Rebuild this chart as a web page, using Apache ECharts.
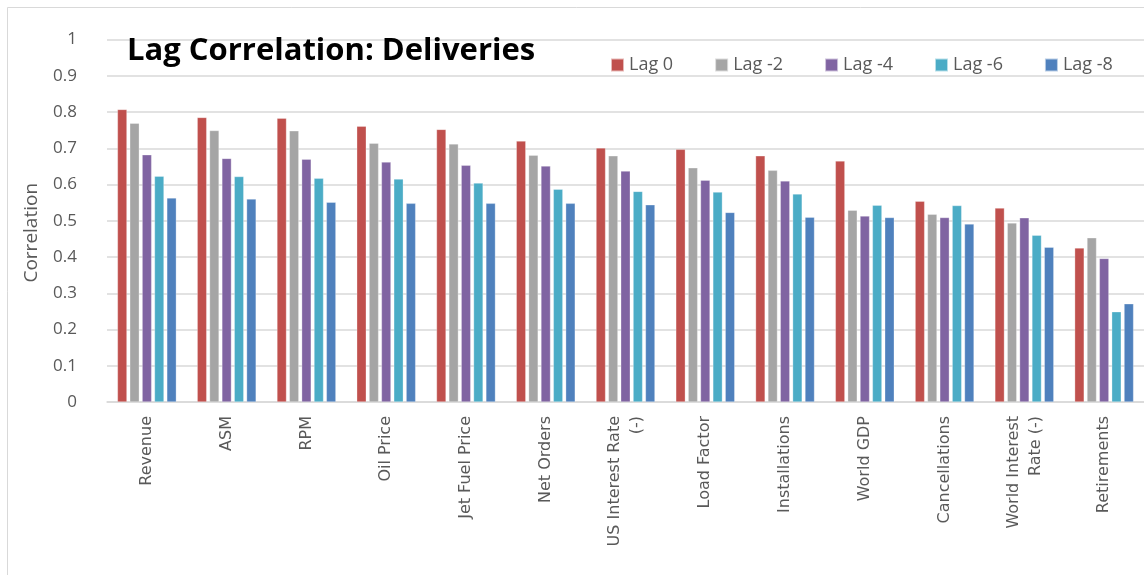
<!DOCTYPE html>
<html>
<head>
<meta charset="utf-8">
<script src="https://cdn.jsdelivr.net/npm/echarts@6/dist/echarts.min.js"></script>
<style>
  html, body { margin: 0; padding: 0; background: #fff; }
  #chart { width: 1144px; height: 575px; }
</style>
</head>
<body>
<div id="chart"></div>
<script>
const categories = [
  "Revenue", "ASM", "RPM", "Oil Price", "Jet Fuel Price", "Net Orders",
  "US Interest Rate\n(-)", "Load Factor", "Installations", "World GDP",
  "Cancellations", "World Interest\nRate (-)", "Retirements"
]

const lag0 = [0.807, 0.785, 0.783, 0.761, 0.752, 0.720, 0.701, 0.697, 0.679, 0.665, 0.554, 0.535, 0.425]
const lag2 = [0.769, 0.749, 0.748, 0.714, 0.712, 0.681, 0.679, 0.646, 0.639, 0.529, 0.518, 0.494, 0.453]
const lag4 = [0.682, 0.672, 0.670, 0.662, 0.653, 0.651, 0.637, 0.612, 0.610, 0.513, 0.509, 0.508, 0.396]
const lag6 = [0.623, 0.622, 0.617, 0.615, 0.604, 0.587, 0.581, 0.579, 0.574, 0.543, 0.542, 0.460, 0.249]
const lag8 = [0.563, 0.560, 0.551, 0.548, 0.548, 0.548, 0.544, 0.523, 0.510, 0.509, 0.491, 0.427, 0.271]

const seriesNames = ["Lag 0", "Lag -2", "Lag -4", "Lag -6", "Lag -8"]
const seriesColors = ["#C0504D", "#A5A5A5", "#8064A2", "#4BACC6", "#4F81BD"]
const yTickLabels = ["0", "0.1", "0.2", "0.3", "0.4", "0.5", "0.6", "0.7", "0.8", "0.9", "1"]

const chart = echarts.init(document.getElementById("chart"))

const bars = [lag0, lag2, lag4, lag6, lag8].map((values, i) => ({
  name: seriesNames[i],
  type: "bar",
  data: values,
  barWidth: 9.5,
  barGap: "30%",
  itemStyle: {color: seriesColors[i], borderColor: "rgba(255,255,255,0.6)", borderWidth: 0.5},
}))

chart.setOption({
  animation: false,
  backgroundColor: "#fff",
  textStyle: {fontFamily: "Open Sans"},
  title: {
    text: "Lag Correlation: Deliveries",
    left: 122,
    top: 31,
    textStyle: {fontFamily: "Open Sans", fontWeight: "bold", fontSize: 31, color: "#000"},
  },
  legend: {
    data: seriesNames,
    left: 605,
    top: 51,
    itemWidth: 13,
    itemHeight: 13,
    itemGap: 41,
    icon: "rect",
    textStyle: {fontFamily: "Open Sans", fontSize: 18, color: "#595959"},
  },
  graphic: [{
    type: "rect",
    shape: {x: 7.5, y: 7.5, width: 1200, height: 700},
    style: {fill: "none", stroke: "#d9d9d9", lineWidth: 1},
    silent: true,
  }],
  grid: {left: 107, top: 39.5, width: 1045, height: 362.5},
  xAxis: {
    type: "category",
    data: categories,
    axisTick: {show: false},
    axisLine: {lineStyle: {color: "#d9d9d9", width: 1.5}},
    axisLabel: {
      rotate: 90,
      interval: 0,
      margin: 14,
      fontFamily: "DejaVu Sans",
      fontSize: 16,
      color: "#595959",
      lineHeight: 22,
    },
  },
  yAxis: {
    type: "value",
    min: 0,
    max: 1,
    interval: 0.1,
    name: "Correlation",
    nameLocation: "middle",
    nameGap: 66,
    nameTextStyle: {fontFamily: "Open Sans", fontSize: 19, color: "#595959", padding: [0, 24, 0, 0]},
    axisLine: {show: false},
    axisTick: {show: false},
    axisLabel: {
      margin: 30,
      fontFamily: "Open Sans",
      fontSize: 17,
      color: "#595959",
      formatter: v => yTickLabels[Math.round(v * 10)],
    },
    splitLine: {lineStyle: {color: "#d9d9d9", width: 1.5}},
  },
  series: bars,
})
</script>
</body>
</html>
